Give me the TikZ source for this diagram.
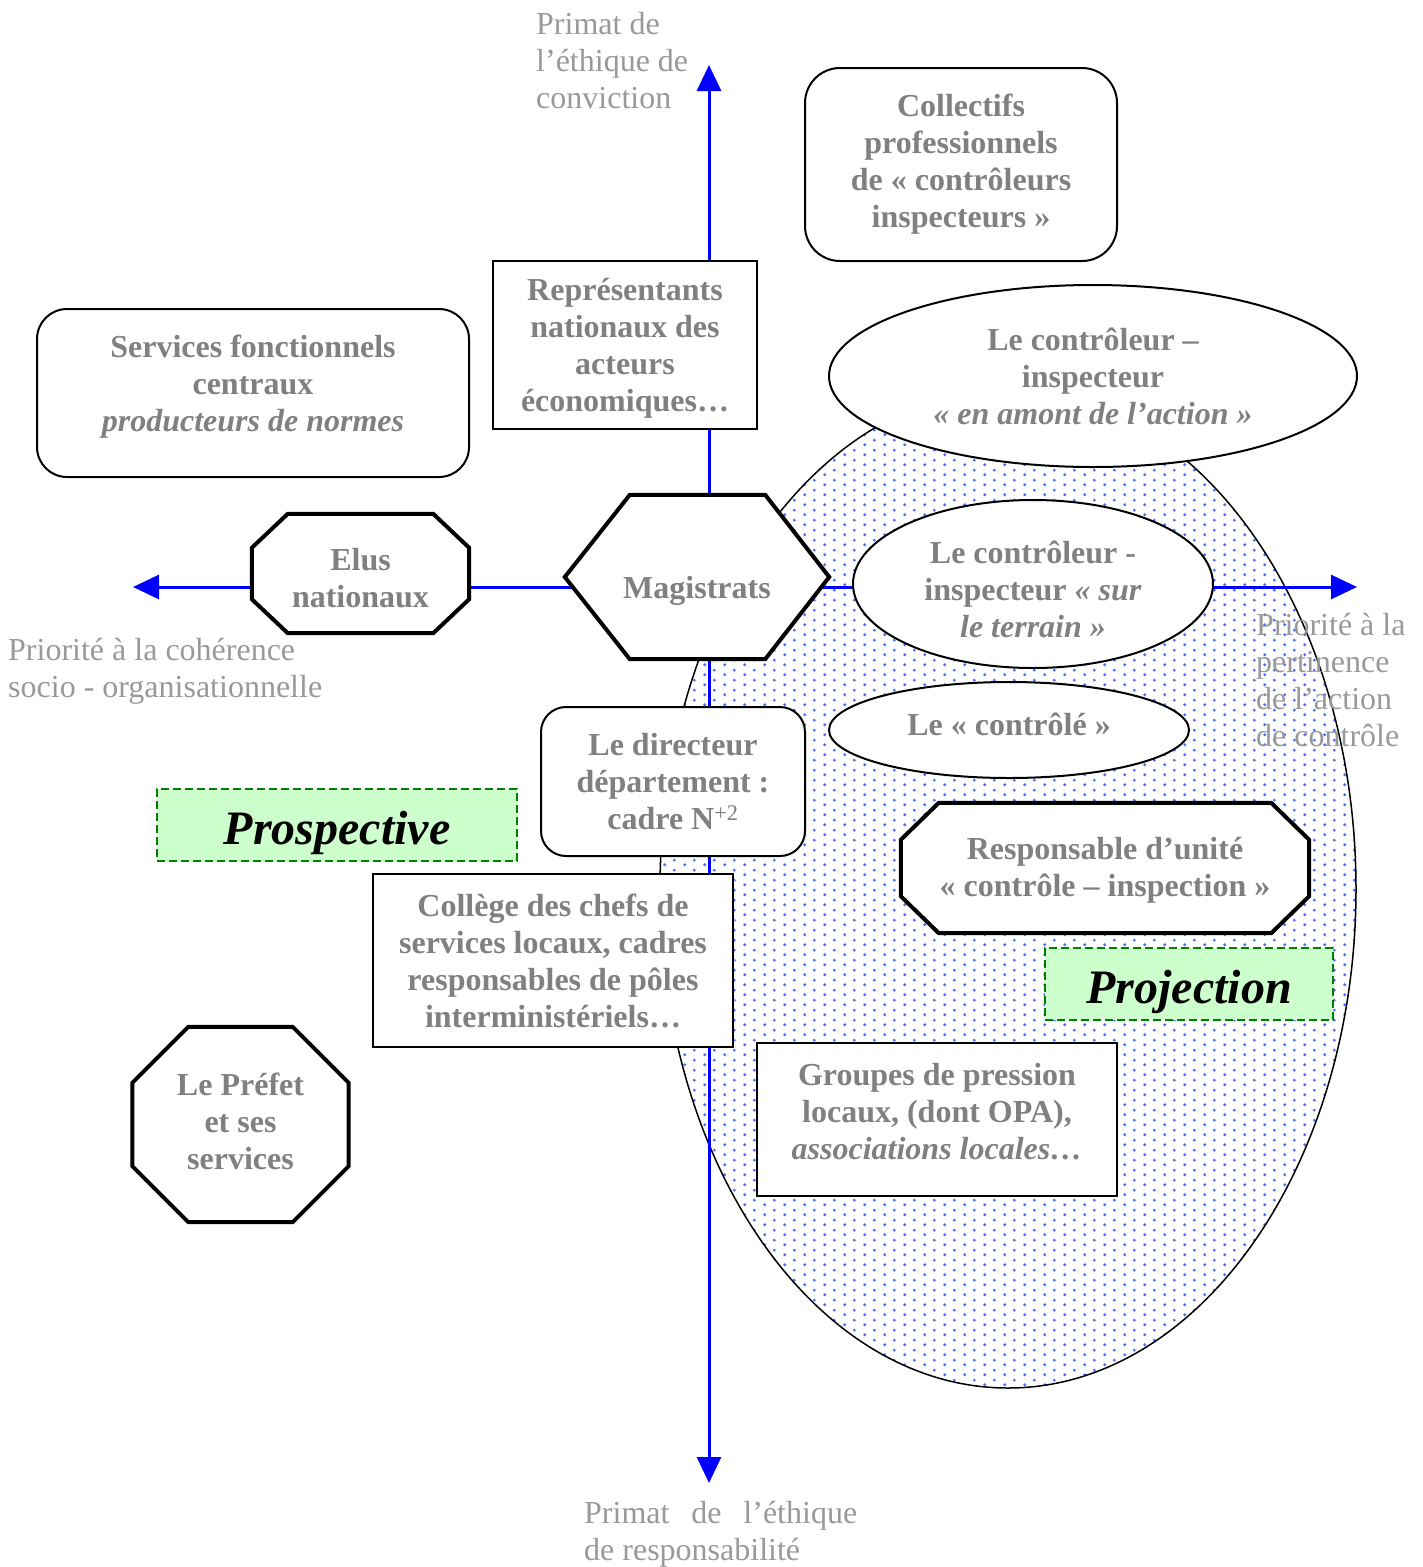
\documentclass[tikz,border=0pt]{standalone}
\usepackage{fontspec}
\setmainfont{Liberation Serif}
\usetikzlibrary{shapes.geometric,arrows.meta,calc,patterns.meta}
\definecolor{boxgray}{RGB}{128,128,128}
\definecolor{axgray}{RGB}{153,153,153}
\definecolor{axblue}{RGB}{0,0,255}
\definecolor{dotblue}{RGB}{70,110,255}
\definecolor{lgreen}{RGB}{204,255,204}
\definecolor{dgreen}{RGB}{0,128,0}
\pgfdeclarelayer{bg}\pgfdeclarelayer{ax}\pgfdeclarelayer{sh}
\pgfsetlayers{bg,ax,sh,main}
\tikzdeclarepattern{name=bluedots,type=uncolored,
  bounding box={(0pt,0pt) and (20pt,10pt)},tile size={(20pt,10pt)},
  code={\fill (5pt,2.5pt) circle (1.7pt); \fill (15pt,7.5pt) circle (1.7pt);}}
\newcommand\drawocto[3]{%
  \draw[polyline] ($(#1.north west)+(#2,0)$) -- ($(#1.north east)+(-#2,0)$)
   -- ($(#1.north east)+(0,#3)$) -- ($(#1.south east)+(0,-#3)$)
   -- ($(#1.south east)+(-#2,0)$) -- ($(#1.south west)+(#2,0)$)
   -- ($(#1.south west)+(0,-#3)$) -- ($(#1.north west)+(0,#3)$) -- cycle;}
\begin{document}
\begin{tikzpicture}[x=1pt,y=-1pt,
  txt/.style={font=\fontsize{32}{37}\selectfont\bfseries, text=boxgray, align=center, inner sep=0pt},
  rbox/.style={txt, draw, fill=white, rounded corners=#1, line width=2pt},
  sbox/.style={txt, draw, fill=white, line width=1.5pt},
  ellbox/.style={txt, ellipse, draw, fill=white, line width=2pt},
  polyline/.style={draw=black, fill=white, line width=4pt, line join=miter},
  tagbox/.style={draw=dgreen, fill=lgreen, dash pattern=on 8pt off 4pt, line width=2pt,
     font=\fontsize{48}{56}\selectfont\bfseries\itshape, text=black, inner sep=0pt,
     text height=38pt, text depth=0pt},
  axis/.style={draw=axblue, line width=3pt,
     {Triangle[length=26pt,width=24pt]}-{Triangle[length=26pt,width=24pt]}},
  axlabel/.style={font=\fontsize{32}{37}\selectfont, text=axgray, align=left, inner sep=0pt, anchor=north west}]
\useasboundingbox (0,0) rectangle (1423,1567);

% big dotted ellipse
\begin{pgfonlayer}{bg}
\path[pattern=bluedots, pattern color=dotblue] (1008,889) ellipse [x radius=348, y radius=499];
\draw[line width=1.5pt] (1008,889) ellipse [x radius=348, y radius=499];
\end{pgfonlayer}

% axes
\coordinate (ntop) at (709,65);
\coordinate (nbot) at (709,1483);
\coordinate (wleft) at (133,587);
\coordinate (eright) at (1357,587);
\begin{pgfonlayer}{ax}
\draw[axis] (nbot) -- (ntop);
\draw[axis] (wleft) -- (eright);
\end{pgfonlayer}

% axis labels
\node[axlabel] (ltop) at (536,12.5) {Primat de\\l’éthique de\\conviction};
\node[axlabel] (lleft) at (8,638) {Priorité à la cohérence\\socio - organisationnelle};
\node[axlabel] (lright) at (1256,613) {Priorité à la\\pertinence\\de l’action\\de contrôle};
\node[axlabel] (lbot) at (584,1501) {\hbox to 273pt{Primat\hfill de\hfill l’éthique}\\de responsabilité};

% boxes
\node[rbox=35pt, minimum width=312pt, minimum height=193pt] (coll) at (961,164.5)
  {Collectifs\\professionnels\\de « contrôleurs\\inspecteurs »};
\node[sbox, minimum width=264pt, minimum height=168pt, text depth=0pt] (repr) at (625,345)
  {Représentants\\nationaux des\\acteurs\\économiques…};
\node[rbox=30pt, minimum width=432pt, minimum height=168pt, text depth=19pt] (serv) at (253,393)
  {Services fonctionnels\\centraux\\\textit{producteurs de normes}};
\node[ellbox, minimum width=528pt, minimum height=182pt] (amont) at (1093,376)
  {Le contrôleur –\\inspecteur\\\textit{« en amont de l’action »}};
\node[txt, minimum width=217pt, minimum height=119pt, text height=68pt] (elus) at (360.5,573.5)
  {Elus\\nationaux};
\node[txt, minimum width=264pt, minimum height=164pt, text height=50pt] (mag) at (697,577)
  {Magistrats};
\node[ellbox, minimum width=360pt, minimum height=168pt, text height=107pt] (terrain) at (1033,584)
  {Le contrôleur -\\inspecteur \textit{« sur}\\\textit{le terrain »}};
\node[ellbox, minimum width=360pt, minimum height=96pt, text depth=12pt] (controle) at (1009,730)
  {Le « contrôlé »};
\node[rbox=25pt, minimum width=264pt, minimum height=149pt] (dir) at (673,781.5)
  {Le directeur\\département :\\cadre N\textsuperscript{\mdseries +2}};
\node[tagbox, minimum width=360pt, minimum height=72pt] (prosp) at (337,825)
  {Prospective};
\node[txt, minimum width=408pt, minimum height=130pt, text height=64pt] (resp) at (1105,868)
  {Responsable d’unité\\« contrôle – inspection »};
\node[sbox, minimum width=360pt, minimum height=173pt] (college) at (553,960.5)
  {Collège des chefs de\\services locaux, cadres\\responsables de pôles\\interministériels…};
\node[tagbox, minimum width=288pt, minimum height=72pt] (proj) at (1189,984)
  {Projection};
\node[sbox, minimum width=360pt, minimum height=153pt, text depth=17pt] (grp) at (937,1119.5)
  {Groupes de pression\\locaux, (dont OPA),\\\textit{associations locales…}};
\node[txt, minimum width=216pt, minimum height=195pt, text depth=6pt] (prefet) at (240.5,1124.5)
  {Le Préfet\\et ses\\services};

% polygon outlines
\begin{pgfonlayer}{sh}
\drawocto{elus}{36}{34}
\drawocto{resp}{38}{37}
\drawocto{prefet}{56}{56}
\draw[polyline] (mag.west) -- ($(mag.north west)+(65,0)$) -- ($(mag.north east)+(-64,0)$)
  -- (mag.east) -- ($(mag.south east)+(-64,0)$) -- ($(mag.south west)+(65,0)$) -- cycle;
\end{pgfonlayer}
\end{tikzpicture}
\end{document}
